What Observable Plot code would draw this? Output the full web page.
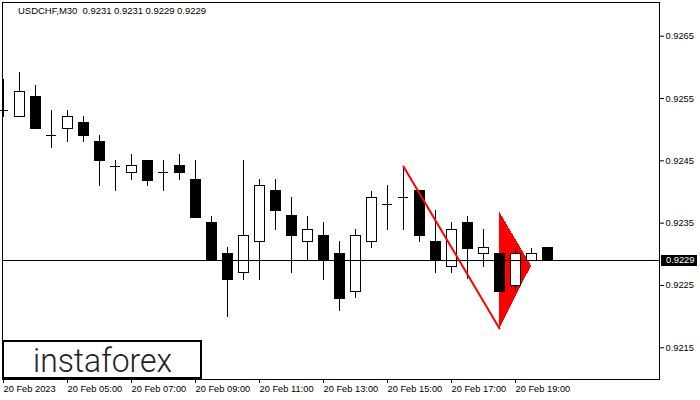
<!DOCTYPE html>
<html>
<head>
<meta charset="utf-8">
<script src="https://cdn.jsdelivr.net/npm/d3@7"></script>
<script src="https://cdn.jsdelivr.net/npm/@observablehq/plot@0.6"></script>
<style>
  html, body { margin: 0; padding: 0; background: #fff; }
  #wrap { position: relative; width: 700px; height: 400px; overflow: hidden; }
  #logo { position: absolute; left: 2px; top: 340px; width: 196px; height: 35px; border: 2px solid #000; background: #fff; overflow: visible; }
  #logo svg { position: absolute; left: 0; top: 0; overflow: visible; }
  #last { position: absolute; left: 661px; width: 36px; height: 11px; background: #000; color: #fff;
          font: 9.3px "Liberation Sans", Arial, sans-serif; line-height: 11px; text-indent: 5px; }
  #head { position: absolute; left: 0; top: 0; overflow: visible; }
</style>
</head>
<body>
<div id="wrap"></div>
<script>
// ---- data ----
const symbol = "USDCHF,M30";
const opens  = [0.92531,0.92520,0.92552,0.92490,0.92501,0.92511,0.92481,0.92441,0.92430,0.92450,0.92431,0.92441,0.92420,0.92351,0.92301,0.92270,0.92320,0.92401,0.92361,0.92320,0.92330,0.92301,0.92240,0.92320,0.92380,0.92391,0.92401,0.92320,0.92279,0.92350,0.92301,0.92301,0.92249,0.92290,0.92310];
const highs  = [0.92580,0.92592,0.92571,0.92531,0.92531,0.92521,0.92490,0.92450,0.92460,0.92450,0.92450,0.92460,0.92450,0.92361,0.92311,0.92450,0.92420,0.92420,0.92391,0.92361,0.92351,0.92320,0.92340,0.92400,0.92410,0.92441,0.92401,0.92370,0.92351,0.92361,0.92340,0.92301,0.92310,0.92310,0.92310];
const lows   = [0.92520,0.92520,0.92501,0.92470,0.92480,0.92480,0.92409,0.92400,0.92418,0.92409,0.92400,0.92418,0.92359,0.92290,0.92199,0.92258,0.92258,0.92339,0.92270,0.92290,0.92258,0.92209,0.92229,0.92310,0.92339,0.92339,0.92319,0.92270,0.92270,0.92259,0.92279,0.92240,0.92240,0.92290,0.92290];
const closes = [0.92531,0.92561,0.92501,0.92490,0.92521,0.92490,0.92449,0.92441,0.92441,0.92418,0.92431,0.92430,0.92359,0.92290,0.92258,0.92330,0.92410,0.92369,0.92329,0.92339,0.92290,0.92229,0.92330,0.92391,0.92380,0.92391,0.92329,0.92290,0.92339,0.92309,0.92310,0.92240,0.92301,0.92301,0.92290];
const tickIndex  = [0, 4, 8, 12, 16, 20, 24, 28, 32];
const tickLabels = ["20 Feb 2023", "20 Feb 05:00", "20 Feb 07:00", "20 Feb 09:00", "20 Feb 11:00",
                    "20 Feb 13:00", "20 Feb 15:00", "20 Feb 17:00", "20 Feb 19:00"];
const priceTicks = [0.9215, 0.9225, 0.9235, 0.9245, 0.9255, 0.9265];
const lastPrice  = 0.9229;
// pennant pattern: pole line and flag triangle
const poleX = [25, 31];
const poleY = [0.92441, 0.92181];
const flagX    = [31, 33];
const flagLow  = [0.92180, 0.92281];
const flagHigh = [0.92368, 0.92281];

// ---- build tables ----
const candles = opens.map((o, i) => ({i, open: o, high: highs[i], low: lows[i], close: closes[i]}));
const bodies = candles.filter(d => d.open !== d.close);
const dojis = candles.filter(d => d.open === d.close);
const pole = poleX.map((x, k) => ({x, y: poleY[k]}));
const flag = flagX.map((x, k) => ({x, low: flagLow[k], high: flagHigh[k]}));
const half = 5 / 16;
const FONT = '"Liberation Sans", Arial, sans-serif';
const last = candles[candles.length - 1];
const f4 = d3.format(".4f");
const header = `${symbol}  ${f4(last.open)} ${f4(last.high)} ${f4(last.low)} ${f4(last.close)}`;

const W = 700, H = 400, mL = 2, mR = 41, mT = 2, mB = 21;
const chart = Plot.plot({
  width: W, height: H,
  marginLeft: mL, marginRight: mR, marginTop: mT, marginBottom: mB,
  style: {fontFamily: FONT, fontSize: "9.3px", color: "#000", background: "#fff"},
  x: {type: "linear", domain: [(mL - 3) / 16, (W - mR - 3) / 16], axis: null},
  y: {domain: [0.920991, 0.927041], axis: null},
  marks: [
    Plot.areaY(flag, {x: "x", y1: "low", y2: "high", fill: "#ff0000", shapeRendering: "crispEdges"}),
    Plot.ruleX(candles, {x: "i", y1: "low", y2: "high", stroke: "#000", strokeWidth: 1, shapeRendering: "crispEdges"}),
    Plot.rect(bodies, {x1: d => d.i - half, x2: d => d.i + half, y1: "open", y2: "close",
      fill: d => d.close > d.open ? "#fff" : "#000", stroke: "#000", strokeWidth: 1, shapeRendering: "crispEdges"}),
    Plot.ruleY(dojis, {y: "open", x1: d => d.i - half, x2: d => d.i + half, stroke: "#000", shapeRendering: "crispEdges"}),
    Plot.ruleY([lastPrice], {stroke: "#000", strokeWidth: 1, shapeRendering: "crispEdges"}),
    Plot.line(pole, {x: "x", y: "y", stroke: "#ff0000", strokeWidth: 2}),
    Plot.frame({stroke: "#000", shapeRendering: "crispEdges"}),
    Plot.axisY(priceTicks, {anchor: "right", tickSize: 4, tickPadding: 2, tickFormat: f4, label: null, fontSize: 9.3}),
    Plot.axisX(tickIndex, {anchor: "bottom", tickSize: 4, tickPadding: 2, textAnchor: "start", label: null,
      tickFormat: i => tickLabels[tickIndex.indexOf(i)], fontSize: 9.3})
  ]
});
const wrap = document.getElementById("wrap");
wrap.appendChild(chart);

// header (forced to the reference's width)
const headSvg = document.createElementNS("http://www.w3.org/2000/svg", "svg");
headSvg.id = "head";
headSvg.setAttribute("width", "260");
headSvg.setAttribute("height", "20");
const ht = document.createElementNS("http://www.w3.org/2000/svg", "text");
ht.setAttribute("x", "18");
ht.setAttribute("y", "13.5");
ht.setAttribute("font-family", "Liberation Sans, Arial, sans-serif");
ht.setAttribute("font-size", "9.5");
ht.setAttribute("fill", "#000");
ht.setAttribute("textLength", "188");
ht.setAttribute("lengthAdjust", "spacing");
ht.style.whiteSpace = "pre";
ht.textContent = header;
headSvg.appendChild(ht);
wrap.appendChild(headSvg);

// last price label
const yLast = chart.scale("y").apply(lastPrice);
const lab = document.createElement("div");
lab.id = "last";
lab.textContent = f4(lastPrice);
lab.style.top = (Math.round(yLast) - 5) + "px";
wrap.appendChild(lab);

// logo
const logo = document.createElement("div");
logo.id = "logo";
logo.innerHTML = `<svg width="196" height="35"><text x="29" y="30" textLength="139" lengthAdjust="spacingAndGlyphs"
  font-family="Roboto, 'DejaVu Sans', sans-serif" font-weight="300" font-size="33" fill="#222">instaforex</text></svg>`;
wrap.appendChild(logo);
</script>
</body>
</html>
